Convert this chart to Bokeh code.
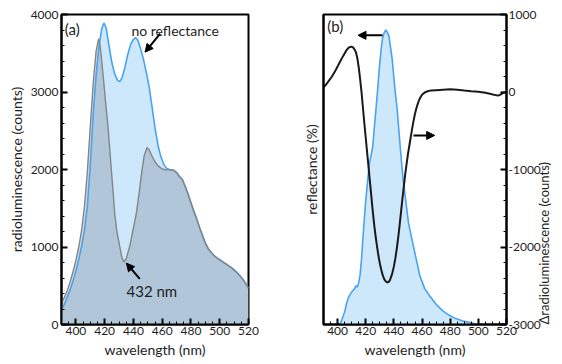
import math
from bokeh.plotting import figure
from bokeh.layouts import row
from bokeh.models import Range1d, LinearAxis, FixedTicker, Label, Arrow, NormalHead
from bokeh.embed import file_html
from bokeh.resources import INLINE

# ---------------- Panel (a): radioluminescence spectra ----------------
wl_open = [390, 392, 394, 396, 398, 400, 402, 404, 406, 408, 410, 412, 414, 416, 418, 419.5,
           421, 423, 425, 427, 429, 430.5, 432, 434, 436, 438, 440, 441.6, 443, 445, 447, 449,
           451, 453, 455, 457, 459, 461, 463, 465, 468, 470, 472, 474, 476, 478, 480, 482, 484,
           486, 488, 490, 492, 494, 496, 498, 500, 502, 504, 506, 508, 510, 512, 514, 516, 518, 520]
counts_open = [195, 260, 350, 450, 560, 690, 840, 1010, 1220, 1530, 2050, 2700, 3200, 3580, 3820, 3890,
               3830, 3600, 3380, 3230, 3150, 3135, 3180, 3310, 3480, 3610, 3680, 3700, 3670, 3560, 3420, 3250,
               3060, 2800, 2540, 2320, 2170, 2070, 2015, 2000, 1990, 1960, 1910, 1870, 1780, 1680, 1570, 1460, 1360,
               1250, 1150, 1050, 980, 930, 890, 860, 835, 810, 785, 760, 735, 705, 670, 630, 585, 530, 470]

wl_refl = [390, 392, 394, 396, 398, 400, 402, 404, 406, 408, 410, 412, 414, 415.8, 417, 419,
           421, 422.3, 424.6, 426, 427, 428.5, 430.5, 432, 433.5, 435, 437.4, 439.5, 442, 444, 445.6,
           447.5, 449.5, 451, 453, 455, 457, 459, 461, 463, 465, 468, 470, 472, 474, 476, 478, 480, 482, 484,
           486, 488, 490, 492, 494, 496, 498, 500, 502, 504, 506, 508, 510, 512, 514, 516, 518, 520]
counts_refl = [280, 350, 440, 550, 680, 830, 1000, 1220, 1530, 1980, 2550, 3100, 3520, 3690, 3580, 3200,
               2800, 2560, 2006, 1680, 1431, 1200, 1006, 860, 805, 850, 1006, 1200, 1431, 1700, 1942,
               2180, 2284, 2250, 2170, 2100, 2050, 2020, 2000, 1995, 1995, 1990, 1960, 1910, 1870, 1780, 1680, 1570, 1460, 1360,
               1250, 1150, 1050, 980, 930, 890, 860, 835, 810, 785, 760, 735, 705, 670, 630, 585, 530, 470]

# ---------------- Panel (b): reflectance and difference ----------------
wl_reflectance = [401.5, 403, 405, 406.5, 408, 410, 412, 413, 414, 415, 416, 417, 418, 419, 420, 421.5,
                  422.6, 424, 425, 426, 427.3, 428.5, 429.6, 431, 432, 433, 434.2, 435, 436.5, 438.8, 440.5,
                  442.3, 444.6, 446.5, 448.1, 450.4, 453.9, 458.5, 462, 465.5, 470, 474.7, 480, 484, 490, 495.6, 500]
reflectance = [0, 1.5, 4, 7, 9, 10.5, 11.5, 12.5, 12, 13.5, 16, 21, 28, 34, 40, 47,
               51.9, 55, 57.5, 63, 69.6, 76, 82.4, 89, 92.5, 94, 95, 94.5, 93, 85.6, 77,
               69.6, 56.7, 47, 41.2, 32.7, 25.2, 15.6, 11.5, 9.2, 6.5, 4.4, 2.8, 1.9, 1, 0.5, 0]

wl_delta = [390, 392, 394, 396, 398, 400, 402, 404, 406, 408, 409.9, 411, 412, 413, 414, 415, 416, 417,
            418, 419, 420, 421, 422, 423, 424, 425, 426, 427, 428, 429, 430, 431, 432, 433, 434, 435,
            436, 437, 438, 439, 440, 441, 442, 443, 444, 445, 446, 447, 448, 449, 450, 451, 452, 453,
            454, 455, 456, 457, 458, 459, 460, 462, 464, 466, 470, 475, 480, 485, 490, 495, 500, 505,
            509, 512, 514, 516, 518, 520]
delta_counts = [60, 100, 150, 200, 260, 330, 400, 466, 530, 575, 586, 575, 550, 515, 440, 320, 170, 0,
                -200, -400, -590, -780, -970, -1160, -1350, -1540, -1710, -1860, -1990, -2110, -2210, -2290, -2360, -2410, -2440, -2455,
                -2455, -2435, -2390, -2330, -2250, -2150, -2030, -1890, -1730, -1560, -1390, -1230, -1070, -930, -800, -690, -580, -470,
                -370, -280, -210, -150, -100, -65, -35, -5, 10, 18, 24, 30, 36, 30, 18, 10, 4, -10,
                -26, -40, -47, -30, -5, 0]

x_ticks = [400, 420, 440, 460, 480, 500, 520]
x_minor = [390, 395, 400, 405, 410, 415, 420, 425, 430, 435, 440, 445, 450, 455, 460, 465, 470,
           475, 480, 485, 490, 495, 500, 505, 510, 515, 520]
ya_ticks = [0, 1000, 2000, 3000, 4000]
ya_minor = [200 * i for i in range(21)]
yb_ticks = [-3000, -2000, -1000, 0, 1000]
yb_labels = ["-3000", "-2000", "-1000", "0", "1000"]
yb_minor = [-3000 + 200 * i for i in range(21)]

FONT = "Lato"
TXT = "#1e1e1e"
BLUE_LINE = "#4aa3ee"
BLUE_FILL = "#cde7fb"
GRAY_LINE = "#858585"
H = 360


def style_axis(ax, ticks=None, minor=None):
    ax.axis_line_width = 2
    ax.axis_line_color = "black"
    ax.major_tick_in = 6
    ax.major_tick_out = 0
    ax.minor_tick_in = 3
    ax.minor_tick_out = 0
    ax.major_tick_line_width = 2
    ax.minor_tick_line_width = 1
    ax.major_tick_line_color = "black"
    ax.minor_tick_line_color = "black"
    ax.major_label_text_font = FONT
    ax.major_label_text_font_size = "12px"
    ax.major_label_text_color = TXT
    ax.axis_label_text_font = FONT
    ax.axis_label_text_font_size = "14px"
    ax.axis_label_text_font_style = "normal"
    ax.axis_label_text_color = TXT
    ax.major_label_standoff = 3
    ax.axis_label_standoff = 3
    if ticks is not None:
        ax.ticker = FixedTicker(ticks=ticks, minor_ticks=minor or [])


def base_fig(width, yr, **kw):
    p = figure(width=width, height=H, x_range=Range1d(390, 520), y_range=yr,
               output_backend="svg", toolbar_location=None, min_border_top=14,
               min_border_bottom=33, **kw)
    p.xgrid.visible = False
    p.ygrid.visible = False
    p.outline_line_color = "black"
    p.outline_line_width = 2
    p.background_fill_color = "white"
    p.border_fill_color = "white"
    return p

# ---------- (a) ----------
p1 = base_fig(290, Range1d(0, 4000), min_border_left=61, min_border_right=42)
p1.varea(x=wl_open, y1=0, y2=counts_open, fill_color=BLUE_FILL, fill_alpha=1)
p1.varea(x=wl_refl, y1=0, y2=counts_refl, fill_color="#6f7d8a", fill_alpha=0.3)
p1.line(wl_open, counts_open, line_color=BLUE_LINE, line_width=1.6)
p1.line(wl_refl, counts_refl, line_color=GRAY_LINE, line_width=1.4)
style_axis(p1.xaxis[0], x_ticks, x_minor)
style_axis(p1.yaxis[0], ya_ticks, ya_minor)
p1.xaxis[0].axis_label = "wavelength (nm)"
p1.yaxis[0].axis_label = "radioluminescence (counts)"
p1.xaxis[0].major_label_standoff = 2
p1.xaxis[0].axis_label_standoff = 3

p1.add_layout(Label(x=392.3, y=3815, text="(a)", text_baseline="middle", text_font=FONT,
                    text_font_size="15px", text_color=TXT))
p1.add_layout(Label(x=438.6, y=3795, text="no reflectance", text_baseline="middle", text_font=FONT,
                    text_font_size="14px", text_color=TXT))
p1.add_layout(Label(x=435.2, y=438, text="432 nm", text_baseline="middle", text_font=FONT,
                    text_font_size="15px", text_color=TXT))
p1.add_layout(Arrow(end=NormalHead(size=8, fill_color="black", line_color="black"),
                    x_start=458.6, y_start=3753, x_end=448.1, y_end=3514,
                    line_width=2, line_color="black"))
p1.add_layout(Arrow(end=NormalHead(size=8, fill_color="black", line_color="black"),
                    x_start=444.4, y_start=588, x_end=435.1, y_end=792,
                    line_width=2, line_color="black"))

# ---------- (b) ----------
p2 = base_fig(272, Range1d(-3000, 1000), min_border_left=33, min_border_right=52,
              y_axis_location=None)
p2.extra_y_ranges = {"refl": Range1d(0, 100)}
p2.varea(x=wl_reflectance, y1=0, y2=reflectance, y_range_name="refl",
         fill_color=BLUE_FILL, fill_alpha=1)
p2.line(wl_reflectance, reflectance, y_range_name="refl", line_color=BLUE_LINE, line_width=1.6)
p2.line(wl_delta, delta_counts, line_color="#1a1a1a", line_width=2)
style_axis(p2.xaxis[0], x_ticks, x_minor)
p2.xaxis[0].axis_label = "wavelength (nm)"
p2.xaxis[0].major_label_standoff = 2
p2.xaxis[0].axis_label_standoff = 3

left_ax = LinearAxis(y_range_name="refl", axis_label="reflectance (%)")
style_axis(left_ax, [], [])
left_ax.major_label_text_font_size = "0px"
left_ax.axis_label_standoff = 4
p2.add_layout(left_ax, "left")

right_ax = LinearAxis(axis_label="\u0394radioluminescence (counts)")
style_axis(right_ax, yb_ticks, yb_minor)
right_ax.major_label_overrides = {t: s for t, s in zip(yb_ticks, yb_labels)}
right_ax.major_label_standoff = 2
right_ax.axis_label_standoff = 0
right_ax.axis_label_text_font_size = "13px"
right_ax.axis_label_orientation = math.pi / 2
try:
    right_ax.axis_label_align = "start"
except Exception:
    pass
p2.add_layout(right_ax, "right")

p2.add_layout(Label(x=392.6, y=850, text="(b)", text_baseline="middle", text_font=FONT,
                    text_font_size="15px", text_color=TXT))
p2.add_layout(Arrow(end=NormalHead(size=8, fill_color="black", line_color="black"),
                    x_start=431.9, y_start=731, x_end=414.5, y_end=731,
                    line_width=2, line_color="black"))
p2.add_layout(Arrow(end=NormalHead(size=8, fill_color="black", line_color="black"),
                    x_start=453.9, y_start=-560, x_end=469.0, y_end=-560,
                    line_width=2, line_color="black"))

layout = row(p1, p2)
open("out.html", "w").write(file_html(layout, INLINE))
